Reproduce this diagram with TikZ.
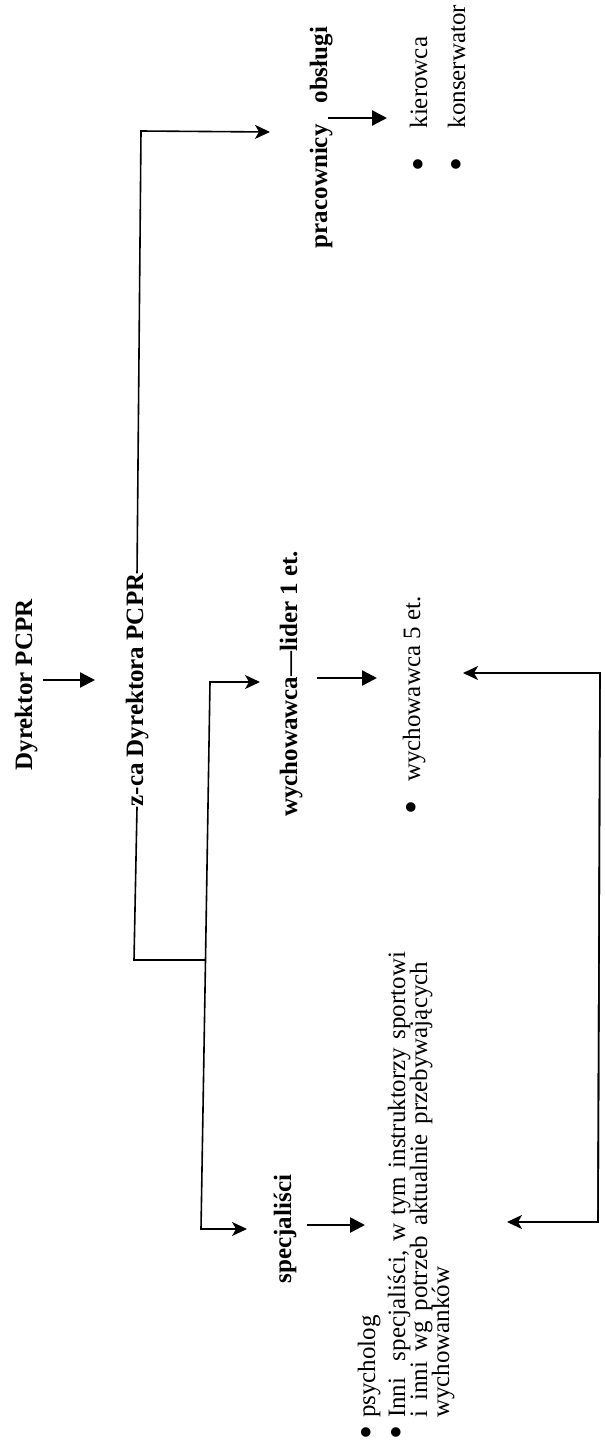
\documentclass[tikz,border=0pt]{standalone}
\usepackage{fontspec}
\setmainfont{Liberation Serif}
\usetikzlibrary{arrows.meta}
\newcommand{\bigdot}{\makebox[8.75pt]{\raisebox{-4.2pt}{\scalebox{1.6}{\textbullet}}}}
\begin{document}
\begin{tikzpicture}[x=1pt,y=-1pt,
    txt/.style={rotate=90,inner sep=0pt,font=\fontsize{25}{30}\selectfont},
    head/.style={txt,anchor=base,font=\fontsize{25}{30}\selectfont\bfseries},
    item/.style={txt,anchor=base west},
    big/.style={line width=2.6pt,-{Triangle[length=15pt,width=15pt]}},
    link/.style={line width=1.6pt},
    tip/.style={-{Stealth[length=15pt,width=14pt,inset=4pt]}}]
    \useasboundingbox (0,0) rectangle (605,1443);
    \node[head] (dyr) at (32,685) {Dyrektor PCPR};
    \node[head] (zca) at (143,690) {z-ca Dyrektora PCPR};
    \node[head] (wlider) at (297,684) {wychowawca---lider 1 et.};
    \node[head] (prac) at (327,137.5) {pracownicy\hspace{21pt}obsługi};
    \node[head] (spec) at (291,1229) {specjaliści};
    \node[item] (w5) at (420,812.4) {\bigdot\hspace{21.7pt}wychowawca 5 et.};
    \node[item] (kier) at (427,169.4) {\bigdot\hspace{32pt}kierowca};
    \node[item] (kons) at (465,169.4) {\bigdot\hspace{32pt}konserwator};
    \node[item] (psych) at (375,1437.4) {\bigdot\hspace{10.6pt}psycholog};
    \node[item] (inni) at (405,1437.4) {\bigdot\hspace{10.6pt}\makebox[466pt][s]{Inni \ specjaliści, w tym instruktorzy sportowi}};
    \node[item] (inni2) at (427,1418) {\makebox[456pt][s]{i inni wg potrzeb aktualnie przebywających}};
    \node[item] (wych) at (449,1418) {wychowanków};
    \coordinate (a1) at (43,680); \coordinate (b1) at (95,680);
    \coordinate (a2) at (317,678); \coordinate (b2) at (377,678);
    \coordinate (a3) at (328,118); \coordinate (b3) at (387,118);
    \coordinate (a4) at (307,1225); \coordinate (b4) at (365,1225);
    \draw[big] (a1) -- (b1);
    \draw[big] (a2) -- (b2);
    \draw[big] (a3) -- (b3);
    \draw[big] (a4) -- (b4);
    \coordinate (ctop) at (141,131);
    \coordinate (prtip) at (270,132);
    \coordinate (cbot) at (134,960);
    \coordinate (junc) at (205.5,960);
    \coordinate (jt) at (210,682);
    \coordinate (jb) at (201,1229);
    \coordinate (wltip) at (260,682);
    \coordinate (sptip) at (247,1229);
    \coordinate (rt) at (600,673);
    \coordinate (r1) at (463,673);
    \coordinate (rb) at (598,1222);
    \coordinate (r2) at (507,1222);
    \draw[link,tip] (zca.east) -- (ctop) -- (prtip);
    \draw[link] (zca.west) -- (cbot) -- (junc);
    \draw[link,tip] (junc) -- (jt) -- (wltip);
    \draw[link,tip] (junc) -- (jb) -- (sptip);
    \draw[link,tip] (rb) -- (rt) -- (r1);
    \draw[link,tip] (rt) -- (rb) -- (r2);
\end{tikzpicture}
\end{document}
